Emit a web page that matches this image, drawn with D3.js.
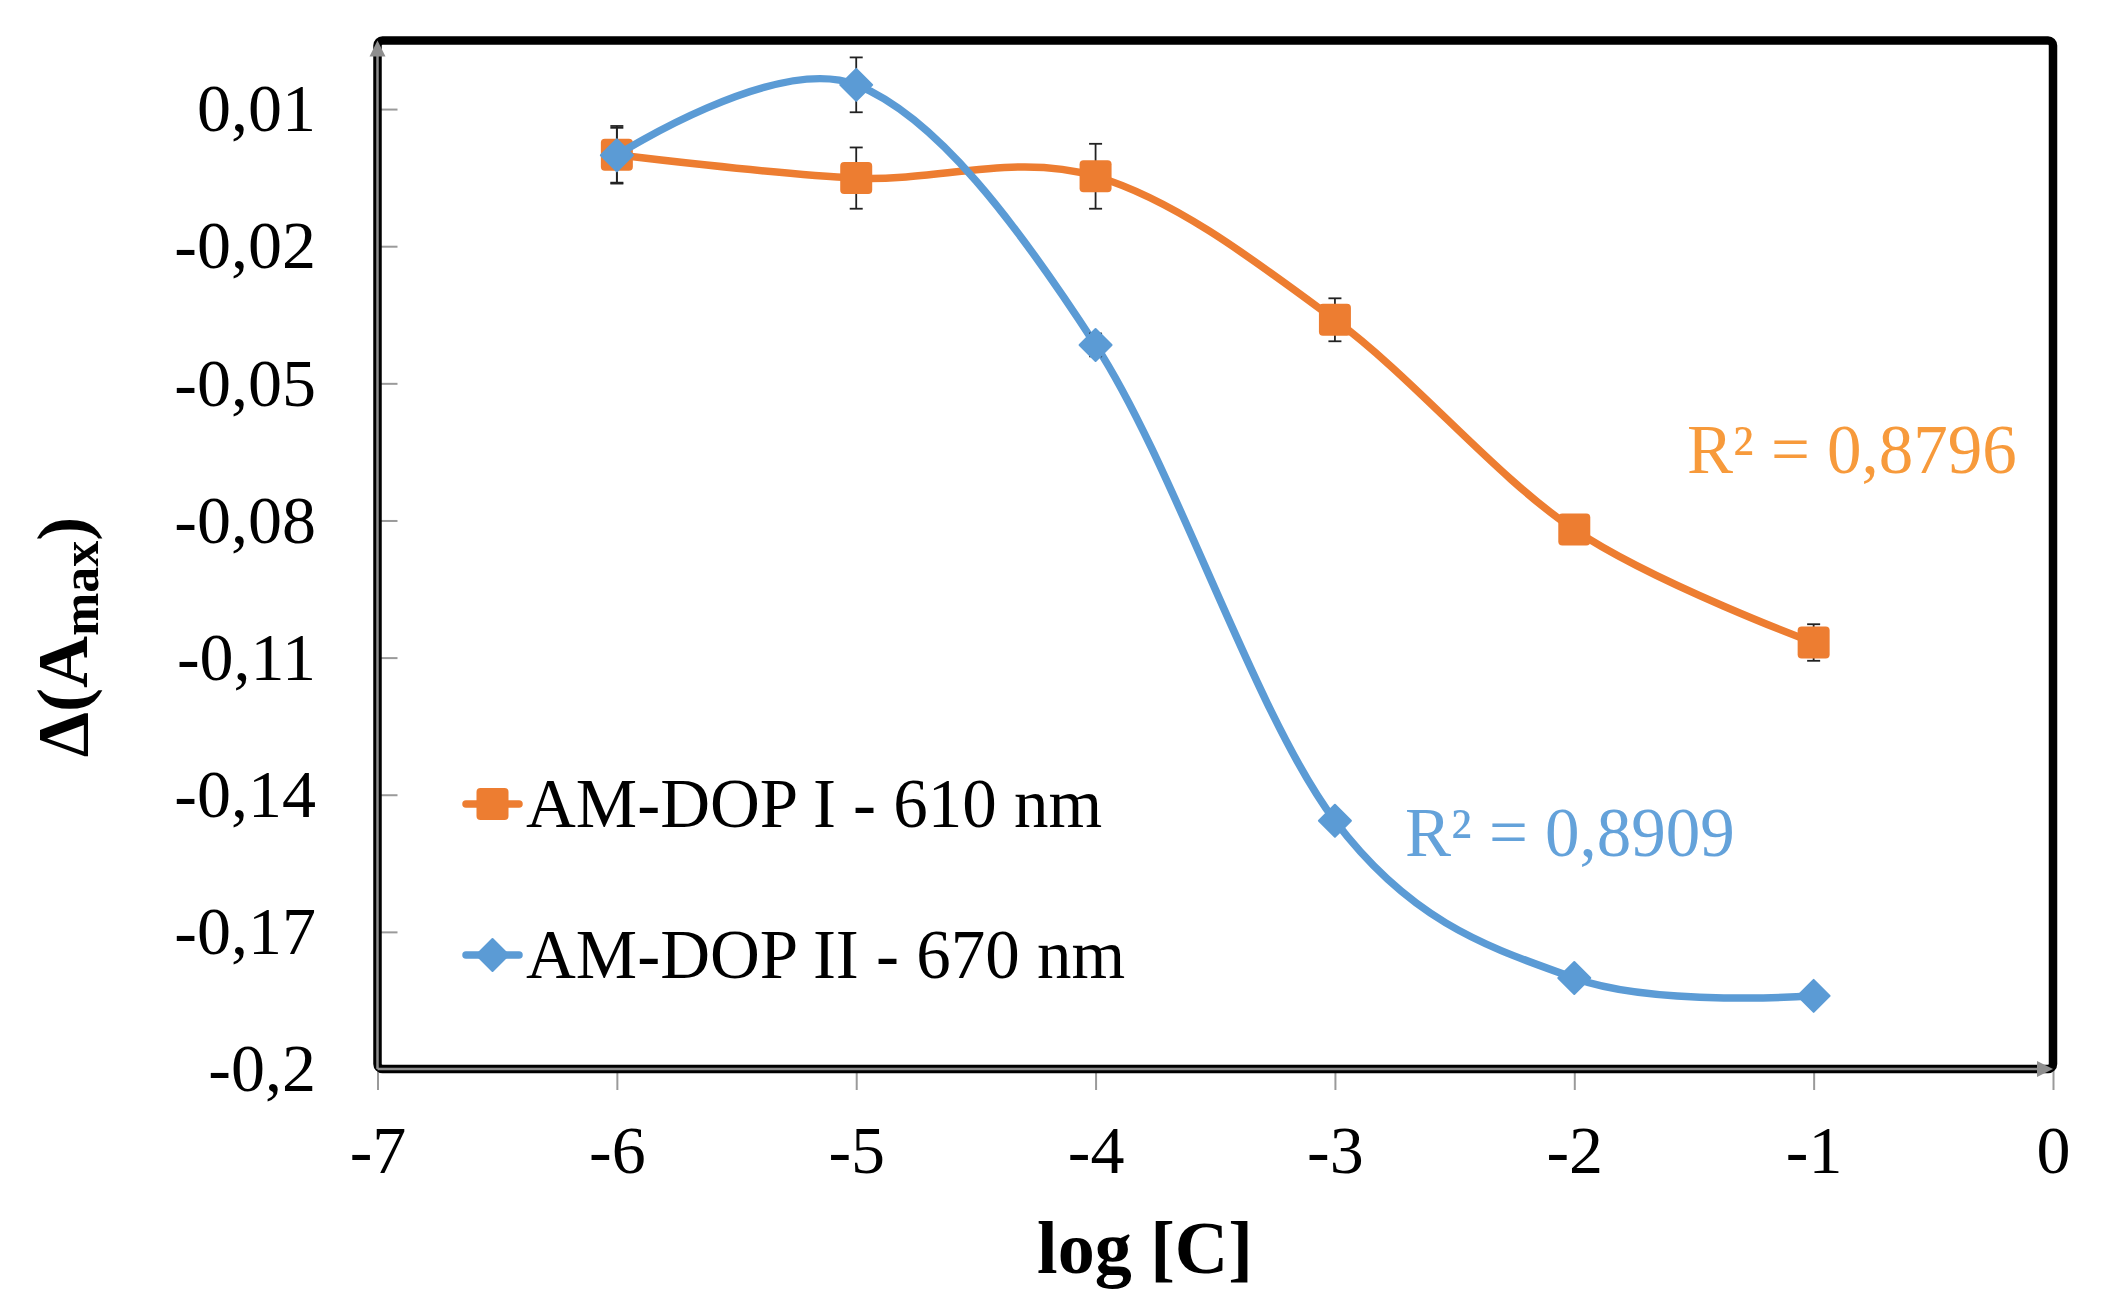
<!DOCTYPE html>
<html>
<head>
<meta charset="utf-8">
<script src="https://cdn.jsdelivr.net/npm/d3@7"></script>
<style>
  body { margin: 0; background: #fff; }
  svg { display: block; }
  text { font-family: "Liberation Serif", "Times New Roman", serif; }
</style>
</head>
<body>
<svg id="chart"></svg>
<script>
var width = 2104, height = 1290

// data
var logC = [-6, -5, -4, -3, -2, -1]
var dopI = [0.0, -0.0051, -0.0047, -0.0361, -0.0820, -0.1067]      // AM-DOP I - 610 nm
var dopIErr = [0.0063, 0.0067, 0.0071, 0.0047, 0.0025, 0.0040]
var dopII = [-0.0001, 0.0153, -0.0416, -0.1457, -0.1801, -0.1840]  // AM-DOP II - 670 nm
var dopIIErr = [0.0060, 0.0060, 0.0025, 0.0020, 0.0015, 0.0015]

var xTicks = [-7, -6, -5, -4, -3, -2, -1, 0]
var yTicks = [-0.2, -0.17, -0.14, -0.11, -0.08, -0.05, -0.02, 0.01]
var seriesNames = ["AM-DOP I - 610 nm", "AM-DOP II - 670 nm"]
var r2Labels = ["R² = 0,8796", "R² = 0,8909"]

var orange = "#ED7D31", blue = "#5B9BD5"

// plot area edges (px)
var pLeft = 377.5, pRight = 2053, pTop = 40.5, pBottom = 1069

var x = d3.scaleLinear().domain([-7, 0]).range([pLeft, pRight])
var y = d3.scaleLinear().domain([-0.2, 0.025]).range([pBottom, pTop])

var svg = d3.select("#chart").attr("width", width).attr("height", height)
svg.append("rect").attr("width", width).attr("height", height).attr("fill", "#fff")

var fmt = function(d) { return String(+d.toFixed(2)).replace(".", ",") }

// axes (ticks + labels)
svg.append("g")
    .attr("transform", "translate(" + pLeft + ",0)")
    .call(d3.axisLeft(y).tickValues(yTicks).tickFormat(fmt).tickSize(-20).tickPadding(61.5))
svg.append("g")
    .attr("transform", "translate(0," + pBottom + ")")
    .call(d3.axisBottom(x).tickValues(xTicks).tickFormat(function(d) { return d }).tickSize(21).tickPadding(35))

svg.selectAll(".domain").remove()
svg.selectAll(".tick line").attr("stroke", "#9a9a9a").attr("stroke-width", 2)
svg.selectAll(".tick text").attr("fill", "#000").style("font-size", "68px")
    .style("font-family", "'Liberation Serif', 'Times New Roman', serif")

// plot frame
svg.append("rect")
    .attr("x", pLeft).attr("y", pTop)
    .attr("width", pRight - pLeft).attr("height", pBottom - pTop)
    .attr("rx", 5)
    .attr("fill", "none").attr("stroke", "#000").attr("stroke-width", 8.5)

// grey axis lines with arrow heads
var grey = "#8e8e8e"
svg.append("line").attr("x1", pLeft).attr("x2", pLeft).attr("y1", pBottom).attr("y2", pTop + 14)
    .attr("stroke", grey).attr("stroke-width", 2.5)
svg.append("path").attr("d", d3.line()([[pLeft - 8, pTop + 16], [pLeft + 8, pTop + 16], [pLeft, pTop]]) + "Z")
    .attr("fill", grey)
svg.append("line").attr("x1", pLeft).attr("x2", pRight - 14).attr("y1", pBottom).attr("y2", pBottom)
    .attr("stroke", grey).attr("stroke-width", 2.5)
svg.append("path").attr("d", d3.line()([[pRight - 16, pBottom - 8], [pRight - 16, pBottom + 8], [pRight, pBottom]]) + "Z")
    .attr("fill", grey)

// series
var series = [
    { name: seriesNames[0], values: dopI, err: dopIErr, color: orange, shape: "square" },
    { name: seriesNames[1], values: dopII, err: dopIIErr, color: blue, shape: "diamond" }
]

var line = d3.line()
    .x(function(d) { return x(d[0]) })
    .y(function(d) { return y(d[1]) })
    .curve(d3.curveCatmullRom.alpha(0))

function marker(g, shape, color, cx, cy) {
    if (shape == "square") {
        g.append("rect").attr("x", cx - 16).attr("y", cy - 16)
            .attr("width", 32).attr("height", 32).attr("rx", 4)
            .attr("fill", color)
    } else {
        g.append("path")
            .attr("d", "M" + cx + "," + (cy - 16) + "L" + (cx + 16) + "," + cy + "L" + cx + "," + (cy + 16) + "L" + (cx - 16) + "," + cy + "Z")
            .attr("fill", color).attr("stroke", color).attr("stroke-width", 2).attr("stroke-linejoin", "round")
    }
}

series.forEach(function(s) {
    var pts = logC.map(function(c, i) { return [c, s.values[i], s.err[i]] })
    var g = svg.append("g")

    g.append("path").datum(pts)
        .attr("d", line)
        .attr("fill", "none").attr("stroke", s.color)
        .attr("stroke-width", 7.5).attr("stroke-linecap", "round")

    // error bars
    var eb = g.selectAll(".err").data(pts).join("g").attr("class", "err")
        .attr("stroke", "#222").attr("stroke-width", 1.8)
    eb.append("line")
        .attr("x1", function(d) { return x(d[0]) }).attr("x2", function(d) { return x(d[0]) })
        .attr("y1", function(d) { return y(d[1] + d[2]) }).attr("y2", function(d) { return y(d[1] - d[2]) })
    eb.append("line")
        .attr("x1", function(d) { return x(d[0]) - 6.5 }).attr("x2", function(d) { return x(d[0]) + 6.5 })
        .attr("y1", function(d) { return y(d[1] + d[2]) }).attr("y2", function(d) { return y(d[1] + d[2]) })
    eb.append("line")
        .attr("x1", function(d) { return x(d[0]) - 6.5 }).attr("x2", function(d) { return x(d[0]) + 6.5 })
        .attr("y1", function(d) { return y(d[1] - d[2]) }).attr("y2", function(d) { return y(d[1] - d[2]) })

    pts.forEach(function(p) { marker(g, s.shape, s.color, x(p[0]), y(p[1])) })
})

// R² labels
svg.append("text").attr("x", 1687).attr("y", 473)
    .attr("fill", "#F79A3B").style("font-size", "69px").text(r2Labels[0])
svg.append("text").attr("x", 1405).attr("y", 856)
    .attr("fill", "#64A2DA").style("font-size", "69px").text(r2Labels[1])

// legend
var legendY = [804, 955]
series.forEach(function(s, i) {
    var g = svg.append("g")
    g.append("line").attr("x1", 466).attr("x2", 519).attr("y1", legendY[i]).attr("y2", legendY[i])
        .attr("stroke", s.color).attr("stroke-width", 7.5).attr("stroke-linecap", "round")
    marker(g, s.shape, s.color, 492.5, legendY[i])
    g.append("text").attr("x", 526).attr("y", legendY[i] + 23)
        .style("font-size", "69px").attr("fill", "#000").text(s.name)
})

// axis titles
svg.append("text").attr("x", 1145).attr("y", 1273)
    .attr("text-anchor", "middle").style("font-size", "74px").style("font-weight", "bold")
    .text("log [C]")

var yt = svg.append("text")
    .attr("transform", "translate(87,637) rotate(-90)")
    .attr("text-anchor", "middle").style("font-size", "72px").style("font-weight", "bold")
yt.append("tspan").text("Δ(A")
yt.append("tspan").attr("baseline-shift", "-22%").style("font-size", "52px").text("max")
yt.append("tspan").attr("baseline-shift", "0").text(")")
</script>
</body>
</html>
